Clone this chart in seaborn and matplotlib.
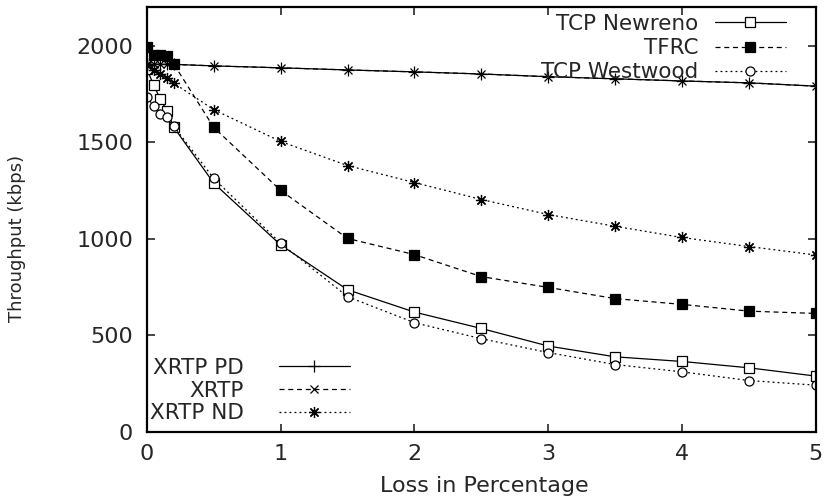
import pandas as pd
import matplotlib
matplotlib.use('Agg')
import matplotlib.pyplot as plt
import seaborn as sns

# loss rates (%) used for every series
loss = [0, 0.05, 0.1, 0.15, 0.2, 0.5, 1, 1.5, 2, 2.5, 3, 3.5, 4, 4.5, 5]

newreno = [1880, 1800, 1725, 1665, 1580, 1289, 968, 736, 620, 535, 444, 388, 364, 331, 288]
tfrc = [1995, 1955, 1955, 1950, 1908, 1578, 1251, 1002, 918, 804, 748, 690, 660, 625, 613]
westwood = [1735, 1690, 1648, 1630, 1585, 1313, 977, 700, 565, 482, 410, 348, 310, 265, 241]
xrtp_pd = [1905, 1905, 1905, 1905, 1905, 1897, 1887, 1876, 1866, 1855, 1841, 1830, 1819, 1809, 1792]
xrtp = [1905, 1905, 1905, 1905, 1905, 1897, 1887, 1876, 1866, 1855, 1841, 1830, 1819, 1809, 1792]
xrtp_nd = [1900, 1878, 1855, 1834, 1808, 1670, 1505, 1380, 1292, 1204, 1126, 1065, 1007, 960, 916]

series = {
    'TCP Newreno': newreno,
    'TFRC': tfrc,
    'TCP Westwood': westwood,
    'XRTP PD': xrtp_pd,
    'XRTP': xrtp,
    'XRTP ND': xrtp_nd,
}

styles = {
    'TCP Newreno': dict(linestyle='-', marker='s', markerfacecolor='white', markersize=7),
    'TFRC': dict(linestyle=(0, (4, 3)), marker='s', markerfacecolor='black', markersize=7),
    'TCP Westwood': dict(linestyle=(0, (1.5, 2.5)), marker='o', markerfacecolor='white', markersize=6.5),
    'XRTP PD': dict(linestyle='-', marker='+', markersize=8),
    'XRTP': dict(linestyle=(0, (4, 3)), marker='x', markersize=6),
    'XRTP ND': dict(linestyle=(0, (1.5, 2.5)), marker=(8, 2, 0), markersize=8),
}

df = pd.DataFrame([(name, x, y) for name, vals in series.items() for x, y in zip(loss, vals)],
                  columns=['protocol', 'loss', 'throughput'])

sns.set_style('ticks')
plt.rcParams['font.family'] = ['DejaVu Sans']

fig, ax = plt.subplots(figsize=(8.25, 4.99), dpi=100)
fig.subplots_adjust(left=0.178, right=0.989, top=0.985, bottom=0.135)

lines = {}
for name in series:
    sub = df[df['protocol'] == name]
    sns.lineplot(data=sub, x='loss', y='throughput', ax=ax, color='black', linewidth=0.9,
                 markeredgecolor='black', markeredgewidth=0.9, label=name, legend=False,
                 **styles[name])
    lines[name] = ax.get_lines()[-1]

ax.set_xlim(0, 5)
ax.set_ylim(0, 2200)
ax.set_xticks([0, 1, 2, 3, 4, 5])
ax.set_yticks([0, 500, 1000, 1500, 2000])
ax.tick_params(direction='in', top=True, right=True, labelsize=16, length=6, width=1.2)
ax.tick_params(axis='x', pad=9)
ax.tick_params(axis='y', pad=10)
for s in ax.spines.values():
    s.set_linewidth(1.6)
    s.set_color('black')

ax.set_xlabel('Loss in Percentage', fontsize=16)
ax.set_ylabel('Throughput (kbps)', fontsize=13)
ax.xaxis.label.set_va('baseline')
ax.xaxis.set_label_coords(0.505, -0.143)
ax.yaxis.set_label_coords(-0.18, 0.455)

top_names = ['TCP Newreno', 'TFRC', 'TCP Westwood']
bot_names = ['XRTP PD', 'XRTP', 'XRTP ND']
leg_kw = dict(frameon=False, markerfirst=False, fontsize=15.5, handlelength=3.3,
              borderpad=0, borderaxespad=0)
leg1 = ax.legend([lines[n] for n in top_names], top_names, loc='upper right',
                 bbox_to_anchor=(0.955, 0.985), labelspacing=0.2, handletextpad=0.75, **leg_kw)
ax.add_artist(leg1)
ax.legend([lines[n] for n in bot_names], bot_names, loc='lower left',
          bbox_to_anchor=(0.005, 0.02), labelspacing=0.12, handletextpad=1.6, **leg_kw)

fig.savefig('out.png', dpi=100)
